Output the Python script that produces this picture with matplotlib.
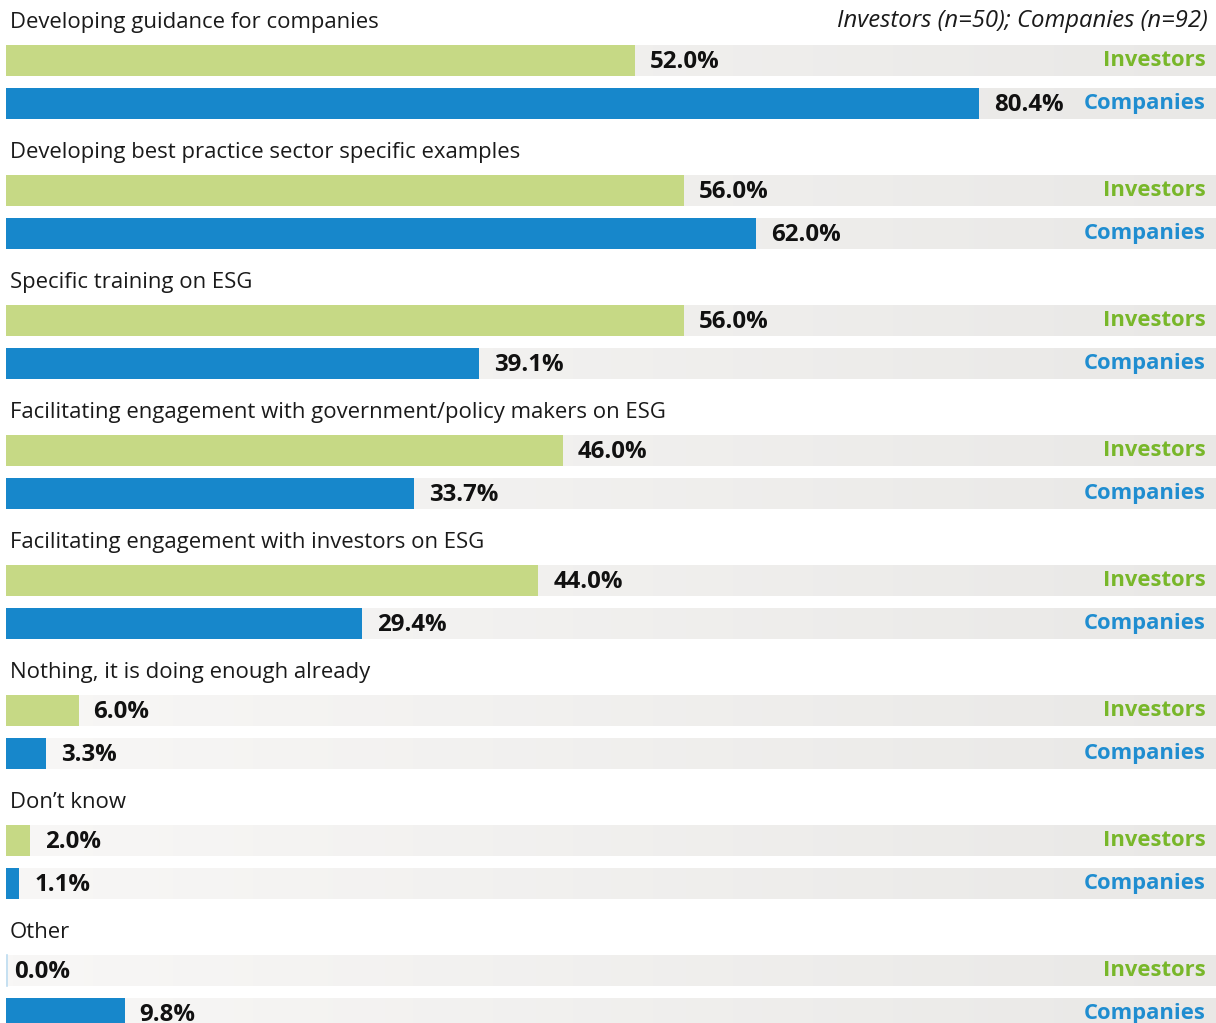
import numpy as np
import matplotlib
matplotlib.use("Agg")
import matplotlib.pyplot as plt
from matplotlib.colors import LinearSegmentedColormap
from matplotlib.transforms import blended_transform_factory

# Survey responses (% of respondents)
categories = [
    "Developing guidance for companies",
    "Developing best practice sector specific examples",
    "Specific training on ESG",
    "Facilitating engagement with government/policy makers on ESG",
    "Facilitating engagement with investors on ESG",
    "Nothing, it is doing enough already",
    "Don\u2019t know",
    "Other",
]
investors = [52.0, 56.0, 56.0, 46.0, 44.0, 6.0, 2.0, 0.0]
companies = [80.4, 62.0, 39.1, 33.7, 29.4, 3.3, 1.1, 9.8]
series_names = ["Investors", "Companies"]
note = "Investors (n=50); Companies (n=92)"

W, H = 1216, 1023
DPI = 100
fig = plt.figure(figsize=(W / DPI, H / DPI), dpi=DPI)
fig.patch.set_facecolor("white")

# axes: x in percent (0-100 spanning the band width), y in pixel rows
left_px = 6
ax = fig.add_axes([left_px / W, 0, 1 - left_px / W, 1])
ax.set_xlim(0, 100)
ax.set_ylim(H, 0)
ax.axis("off")

FONT = "Open Sans"
green = "#c6d985"
blue = "#1787cb"
green_txt = "#78b72a"
blue_txt = "#1f8dd0"
band_cmap = LinearSegmentedColormap.from_list("band", ["#f8f7f6", "#e9e8e6"])
grad = np.linspace(0, 1, 256).reshape(1, -1)

px_per_pct = (W - left_px) / 100.0
step = 130
bar_h = 31
first_title_y = 22.5
first_bar_top = 45
gap = 43  # distance between investors and companies bar tops

ax_px = blended_transform_factory(fig.transFigure, ax.transData)

for i, cat in enumerate(categories):
    base = i * step
    ax.text(10 / W, first_title_y + base, cat, transform=ax_px,
            ha="left", va="center", fontsize=15.9, family=FONT,
            color="#1a1a1a")
    for j, (vals, col, tcol) in enumerate(
            [(investors, green, green_txt), (companies, blue, blue_txt)]):
        top = first_bar_top + base + j * gap
        ax.imshow(grad, cmap=band_cmap, aspect="auto",
                  extent=[0, 100, top + bar_h, top], zorder=0,
                  interpolation="bilinear")
        v = vals[i]
        ax.barh(top + bar_h / 2, v, height=bar_h, left=0, color=col,
                edgecolor="none", zorder=2)
        if v == 0:
            ax.plot([0.05, 0.05], [top, top + bar_h], color="#bcdcf0",
                    lw=1.2, zorder=2)
        off = 15 if v > 0 else 8
        ax.text(v + off / px_per_pct, top + bar_h / 2 + 1.5, f"{v:.1f}%",
                ha="left", va="center", fontsize=17.3, fontweight="bold",
                family=FONT, color="#111111", zorder=3)
        ax.text(1206 / W, top + bar_h / 2, series_names[j],
                transform=ax_px, ha="right", va="center", fontsize=15.8,
                fontweight="bold", family=FONT, color=tcol, zorder=3)

ax.text(1208 / W, 21, note, transform=ax_px, ha="right", va="center",
        fontsize=17.2, style="italic", family=FONT, color="#1a1a1a")

ax.set_xlim(0, 100)
ax.set_ylim(H, 0)
fig.savefig("out.png", dpi=DPI, facecolor="white")
